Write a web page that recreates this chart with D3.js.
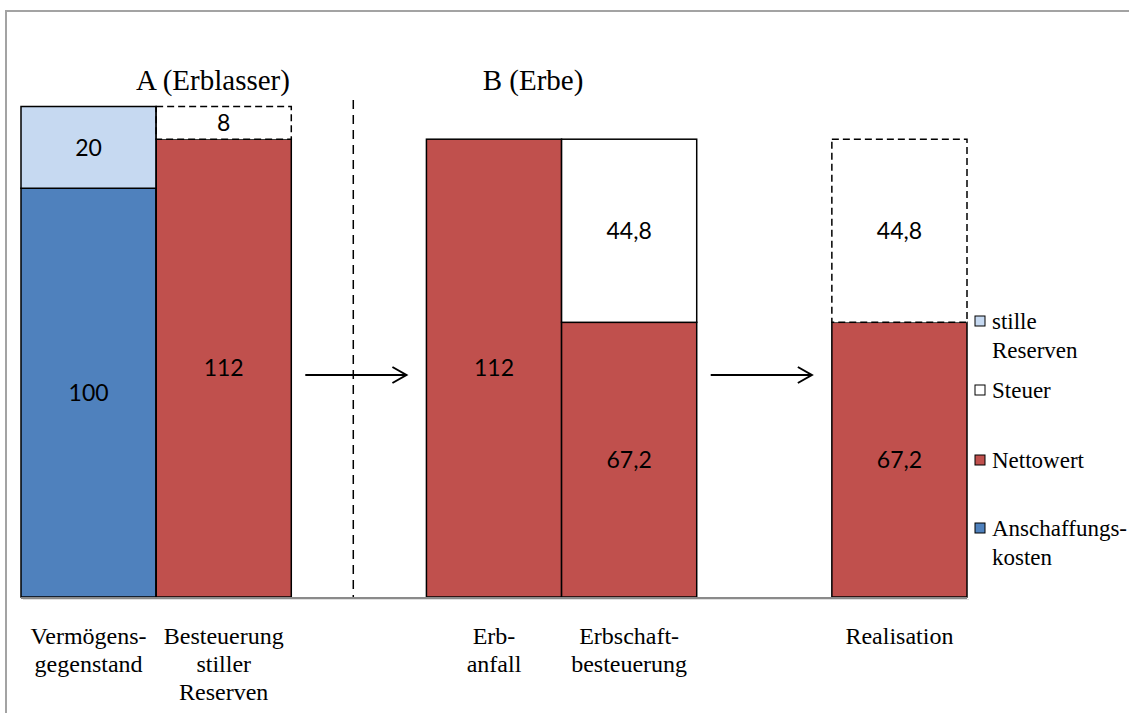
<!DOCTYPE html>
<html>
<head>
<meta charset="utf-8">
<script src="https://cdn.jsdelivr.net/npm/d3@7"></script>
<style>
  html, body { margin: 0; padding: 0; background: #fff; }
  svg { display: block; }
</style>
</head>
<body>
<svg id="chart" width="1129" height="713"></svg>
<script>
// Slots along the x axis (two empty slots hold the transition arrows)
const slots = ["Vermögensgegenstand", "Besteuerung", "uebergang1", "Erbanfall", "Erbschaftbesteuerung", "uebergang2", "Realisation"];
const slotLabels = [["Vermögens-", "gegenstand"], ["Besteuerung", "stiller", "Reserven"], [], ["Erb-", "anfall"], ["Erbschaft-", "besteuerung"], [], ["Realisation"]];

// Series values per slot
const anschaffungskosten = [100, 0, 0, 0, 0, 0, 0];
const stilleReserven     = [20, 0, 0, 0, 0, 0, 0];
const nettowert          = [0, 112, 0, 112, 67.2, 0, 67.2];
const steuer             = [0, 8, 0, 0, 44.8, 0, 44.8];

// Value labels shown inside segments
const valueLabels = {
  Anschaffungskosten: ["100", "", "", "", "", "", ""],
  "stille Reserven":  ["20", "", "", "", "", "", ""],
  Nettowert:          ["", "112", "", "112", "67,2", "", "67,2"],
  Steuer:             ["", "8", "", "", "44,8", "", "44,8"]
};

// Tax that is only latent (not yet levied) is outlined dashed
const latentTaxSlots = ["Besteuerung", "Realisation"];

const groupTitles = ["A (Erblasser)", "B (Erbe)"];
const legendOrder = ["stille Reserven", "Steuer", "Nettowert", "Anschaffungskosten"];
const legendLabels = [["stille", "Reserven"], ["Steuer"], ["Nettowert"], ["Anschaffungs-", "kosten"]];

const keys = ["Anschaffungskosten", "Nettowert", "stille Reserven", "Steuer"];
const colors = {
  "Anschaffungskosten": "#4F81BD",
  "stille Reserven": "#C6D9F1",
  "Nettowert": "#C0504D",
  "Steuer": "#FFFFFF"
};

const SERIF = '"Liberation Serif"';
const SANS = '"Lato"';

const rows = slots.map((s, i) => ({
  slot: s,
  "Anschaffungskosten": anschaffungskosten[i],
  "stille Reserven": stilleReserven[i],
  "Nettowert": nettowert[i],
  "Steuer": steuer[i]
}));

const svg = d3.select("#chart");

// Outer frame
svg.append("path")
  .attr("d", "M6,713 V11 H1129")
  .attr("fill", "none")
  .attr("stroke", "#a3a3a3")
  .attr("stroke-width", 2);

const x = d3.scaleBand().domain(slots).range([21, 967]).padding(0);
const y = d3.scaleLinear().domain([0, 120]).range([597, 106.5]);

const stacked = d3.stack().keys(keys)(rows);
const segments = layer => layer
  .map((d, i) => ({ key: layer.key, i, y0: d[0], y1: d[1], slot: d.data.slot }))
  .filter(d => d.y1 - d.y0 > 0);

// Bar segments
const layers = svg.append("g").selectAll("g")
  .data(stacked)
  .join("g");

layers.selectAll("rect")
  .data(segments)
  .join("rect")
  .attr("x", d => x(d.slot))
  .attr("width", x.bandwidth())
  .attr("y", d => y(d.y1))
  .attr("height", d => y(d.y0) - y(d.y1))
  .attr("fill", d => colors[d.key])
  .attr("stroke", "#000")
  .attr("stroke-width", 1.5)
  .attr("stroke-dasharray", d => (d.key === "Steuer" && latentTaxSlots.includes(d.slot)) ? "7,4" : null);

// Solid shared edge between the first two bars
svg.append("line")
  .attr("x1", x("Besteuerung")).attr("x2", x("Besteuerung"))
  .attr("y1", y(120)).attr("y2", y(0))
  .attr("stroke", "#000").attr("stroke-width", 1.5);

// Value labels
layers.selectAll("text")
  .data(layer => segments(layer).filter(d => valueLabels[d.key][d.i]))
  .join("text")
  .style("font-family", SANS)
  .style("font-size", "23px")
  .attr("x", d => x(d.slot) + x.bandwidth() / 2)
  .attr("y", d => (y(d.y0) + y(d.y1)) / 2)
  .attr("dy", "0.36em")
  .attr("text-anchor", "middle")
  .attr("fill", "#000")
  .text(d => valueLabels[d.key][d.i]);

// Baseline
svg.append("line")
  .attr("x1", 21).attr("x2", 967)
  .attr("y1", y(0) + 1).attr("y2", y(0) + 1)
  .attr("stroke", "#8a8a8a").attr("stroke-width", 2);
svg.append("line")
  .attr("x1", 23).attr("x2", 969)
  .attr("y1", y(0) + 2.5).attr("y2", y(0) + 2.5)
  .attr("stroke", "#e0e0e0").attr("stroke-width", 1);

// Category labels
slots.forEach((s, i) => {
  const cx = x(s) + x.bandwidth() / 2;
  const t = svg.append("text")
    .style("font-family", SERIF)
    .style("font-size", "24px")
    .attr("x", cx)
    .attr("y", 644)
    .attr("text-anchor", "middle")
    .attr("fill", "#000");
  slotLabels[i].forEach((line, j) => {
    t.append("tspan")
      .attr("x", cx)
      .attr("dy", j === 0 ? 0 : 28)
      .text(line);
  });
});

// Divider between testator and heir
const dividerX = x("uebergang1") + 62;
svg.append("line")
  .attr("x1", dividerX).attr("x2", dividerX)
  .attr("y1", 100).attr("y2", y(0))
  .attr("stroke", "#000").attr("stroke-width", 1.5)
  .attr("stroke-dasharray", "9,6");

// Group titles
[[213, groupTitles[0]], [533, groupTitles[1]]].forEach(([tx, label]) => {
  svg.append("text")
    .style("font-family", SERIF)
    .style("font-size", "29px")
    .attr("x", tx).attr("y", 90)
    .attr("text-anchor", "middle")
    .attr("fill", "#000")
    .text(label);
});

// Transition arrows
["uebergang1", "uebergang2"].forEach(s => {
  const x0 = x(s) + 14, x1 = x(s) + x.bandwidth() - 20, ay = 375;
  const g = svg.append("g").attr("stroke", "#000").attr("stroke-width", 2).attr("fill", "none");
  g.append("line").attr("x1", x0).attr("x2", x1).attr("y1", ay).attr("y2", ay);
  g.append("path").attr("d", `M${x1 - 14},${ay - 8} L${x1},${ay} L${x1 - 14},${ay + 8}`);
});

// Legend
const legendY = [321, 390, 460, 528];
legendOrder.forEach((k, i) => {
  const cy = legendY[i];
  svg.append("rect")
    .attr("x", 975).attr("y", cy - 5)
    .attr("width", 10).attr("height", 10)
    .attr("fill", colors[k])
    .attr("stroke", "#000").attr("stroke-width", 1);
  const t = svg.append("text")
    .style("font-family", SERIF)
    .style("font-size", "23px")
    .attr("x", 992).attr("y", cy + 8)
    .attr("fill", "#000");
  legendLabels[i].forEach((line, j) => {
    t.append("tspan").attr("x", 992).attr("dy", j === 0 ? 0 : 29).text(line);
  });
});
</script>
</body>
</html>
